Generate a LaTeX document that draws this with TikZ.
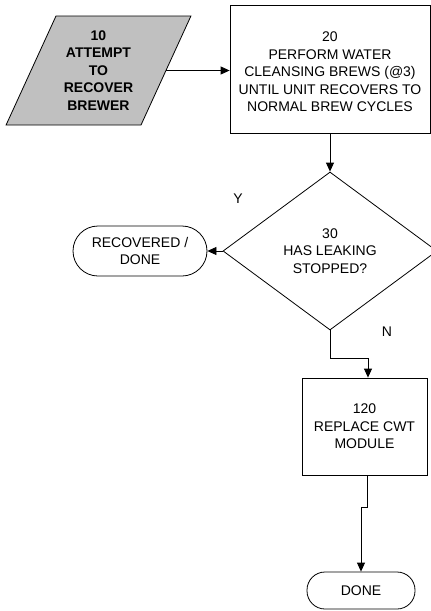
\documentclass[tikz,border=0pt]{standalone}
\usepackage{fontspec}
\setmainfont{Liberation Sans}
\usetikzlibrary{shapes.geometric,arrows.meta}
\definecolor{iogray}{RGB}{192,192,192}
\begin{document}
\begin{tikzpicture}[x=1pt,y=-1pt,
  txt/.style={font=\fontsize{14}{17.5}\selectfont, align=center},
  procbox/.style={draw, txt, rectangle, inner sep=0pt, line width=0.8pt},
  iobox/.style={draw, txt, trapezium, trapezium left angle=63, trapezium right angle=117,
    trapezium stretches=true, fill=iogray, inner sep=0pt, line width=0.8pt, font=\fontsize{14}{17.5}\selectfont\bfseries},
  decbox/.style={draw, txt, diamond, inner sep=0pt, line width=0.8pt},
  termbox/.style={draw, txt, rectangle, inner sep=0pt, line width=0.8pt},
  lbl/.style={txt, inner sep=0pt},
  flow/.style={draw, line width=0.8pt, -{Triangle[length=9pt,width=8pt]}}
]
\useasboundingbox (0,0) rectangle (431,611);
\clip (0,0) rectangle (431,611);

% process steps
\node[iobox, minimum width=185pt, minimum height=109pt] (n10) at (98.5,70.5)
  {10\\ATTEMPT\\TO\\RECOVER\\BREWER};
\node[procbox, minimum width=200pt, minimum height=128pt] (n20) at (330,69) {};
\node[lbl] (t20) at ([yshift=-3pt]n20.center)
  {20\\PERFORM WATER\\CLEANSING BREWS (@3)\\UNTIL UNIT RECOVERS TO\\NORMAL BREW CYCLES};
\node[decbox, minimum width=214pt, minimum height=158pt] (n30) at (330,251)
  {30\\HAS LEAKING\\STOPPED?};
\node[termbox, minimum width=134pt, minimum height=50pt, rounded corners=25pt] (rec) at (140,251)
  {RECOVERED /\\DONE};
\node[procbox, minimum width=125pt, minimum height=97pt] (n120) at (364.5,426.5)
  {120\\REPLACE CWT\\MODULE};
\node[termbox, minimum width=108pt, minimum height=37pt, rounded corners=18pt] (done) at (361,590.5)
  {DONE};

% branch labels
\node[lbl] (ly) at (238,199) {Y};
\node[lbl] (ln) at (387,332) {N};

% connectors
\draw[flow] (n10.east) -- (n10.east -| n20.west);
\draw[flow] (n20.south) -- (n30.north);
\draw[flow] (n30.west) -- (rec.east);
\draw[flow] (n30.south) -- ++(0,28) coordinate (k1) -| ([xshift=3.5pt]n120.north);
\draw[flow] ([xshift=2.5pt]n120.south) -- ++(0,32) coordinate (k2) -| (done.north);
\end{tikzpicture}
\end{document}
